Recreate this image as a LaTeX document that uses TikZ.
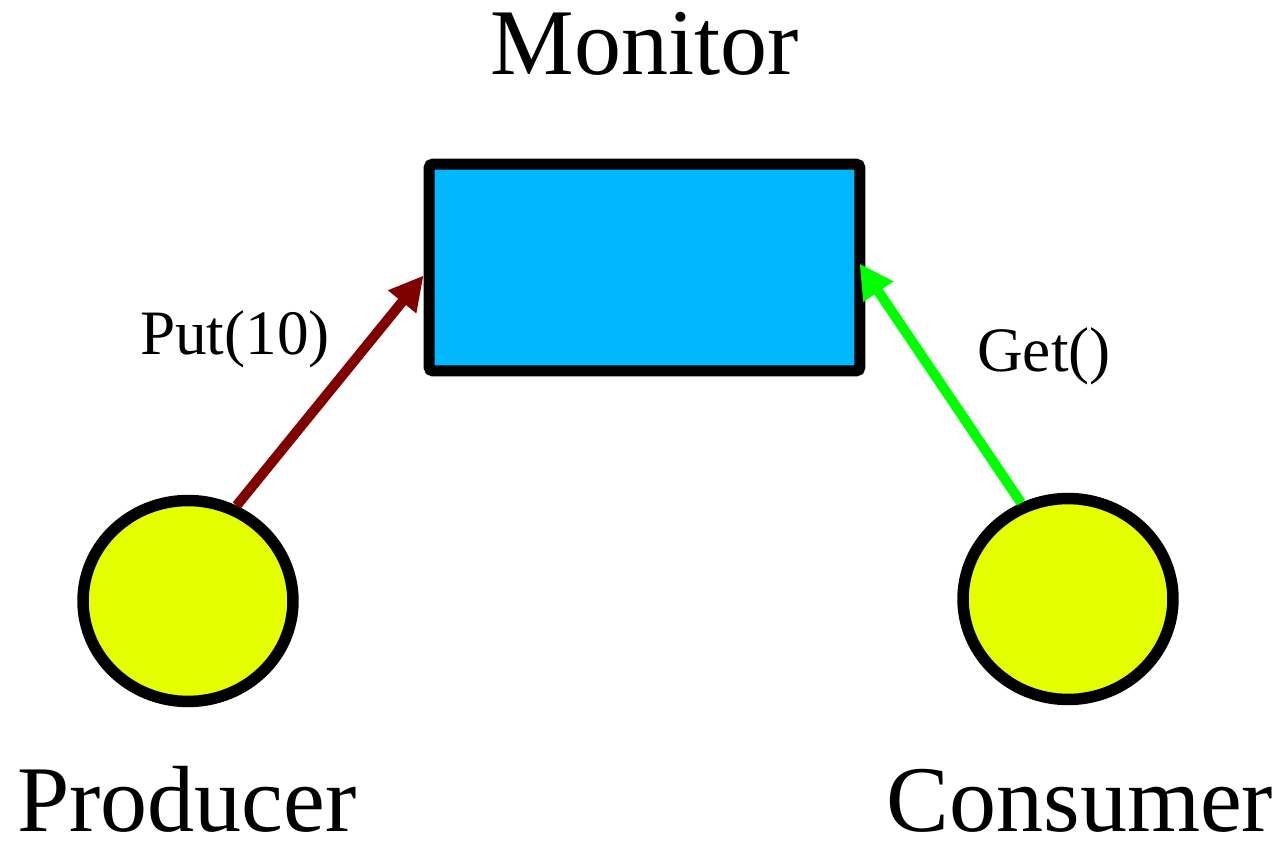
\documentclass[tikz,border=0pt]{standalone}
\usepackage{fontspec}
\setmainfont{Liberation Serif}
\usetikzlibrary{shapes.geometric, arrows.meta, positioning}
\definecolor{monitorblue}{HTML}{00B8FF}
\definecolor{threadyellow}{HTML}{E3FF00}
\definecolor{putred}{HTML}{800000}
\definecolor{getgreen}{HTML}{00FF00}

\begin{document}
\begin{tikzpicture}[
    x=0.02cm, y=-0.02cm,
    monitorbox/.style={rectangle, rounded corners=0.08cm, draw=black, line width=0.22cm, fill=monitorblue, minimum width=8.62cm, minimum height=4.14cm, inner sep=0pt},
    thread/.style={ellipse, draw=black, line width=0.23cm, fill=threadyellow, minimum width=4.2cm, minimum height=4.02cm, inner sep=0pt},
    bigtext/.style={font=\fontsize{53.5}{60}\selectfont, anchor=base, inner sep=0pt},
    calltext/.style={font=\fontsize{36}{40}\selectfont, anchor=base, inner sep=0pt},
    arrow/.style={-{Triangle[length=0.68cm, width=0.68cm]}, line width=0.2cm}
]
\useasboundingbox (0,0) rectangle (1288,844);

% Monitor and the two threads
\node[monitorbox] (monitor) at (644.5,267.5) {};
\node[thread] (producer) at (188,601) {};
\node[thread] (consumer) at (1068,599) {};

% Titles
\node[bigtext] (monitortitle) at (645,75) {Monitor};
\node[bigtext] (producertitle) at (187,831) {Producer};
\node[bigtext] (consumertitle) at (1080,831) {Consumer};

% Calls into the monitor
\draw[arrow, putred] (producer.63) -- ([yshift=-0.16cm]monitor.west);
\draw[arrow, getgreen] (consumer.116) -- ([xshift=-0.12cm, yshift=0.08cm]monitor.east);

\node[calltext] (putcall) at (235,355) {Put(10)};
\node[calltext] (getcall) at (1044,372) {Get()};
\end{tikzpicture}
\end{document}
